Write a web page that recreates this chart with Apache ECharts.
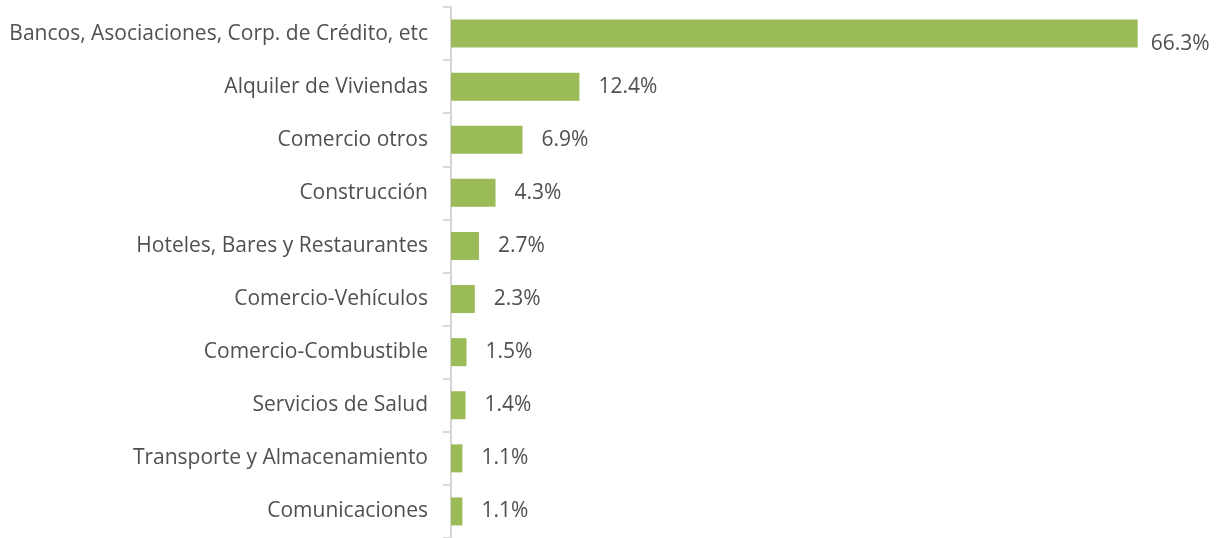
<!DOCTYPE html>
<html><head><meta charset="utf-8">
<script src="https://cdn.jsdelivr.net/npm/echarts@6/dist/echarts.min.js"></script>
<style>html,body{margin:0;padding:0;background:#fff}#c{width:1223px;height:538px}</style>
</head><body><div id="c"></div>
<script>
const categories = ["Bancos, Asociaciones, Corp. de Crédito, etc","Alquiler de Viviendas","Comercio otros","Construcción","Hoteles, Bares y Restaurantes","Comercio-Vehículos","Comercio-Combustible","Servicios de Salud","Transporte y Almacenamiento","Comunicaciones"];
const values = [66.3,12.4,6.9,4.3,2.7,2.3,1.5,1.4,1.1,1.1];

const chart = echarts.init(document.getElementById('c'), null, {renderer:'canvas'});
const font = '"Open Sans", sans-serif';
chart.setOption({
  animation:false,
  grid:{left:451, right:47, top:7, bottom:-2.3, containLabel:false},
  xAxis:{type:'value', min:0, max:70, show:false},
  yAxis:{type:'category', inverse:true, data:categories,
    axisLine:{show:true, lineStyle:{color:'#d4d4d4', width:2}},
    axisTick:{show:true, length:8, lineStyle:{color:'#d9d9d9', width:2}},
    axisLabel:{margin:23, color:'#505050', fontSize:21, fontFamily:font}},
  series:[{type:'bar', barWidth:28,
    data: values.map((v,i)=> i===0 ? {value:v, label:{offset:[-6,10]}} : v),
    itemStyle:{color:'#9bbb59'},
    label:{show:true, position:'right', distance:19, color:'#505050', fontSize:21, fontFamily:font,
      formatter:p=>p.value.toFixed(1)+'%'}}]
});
</script></body></html>
